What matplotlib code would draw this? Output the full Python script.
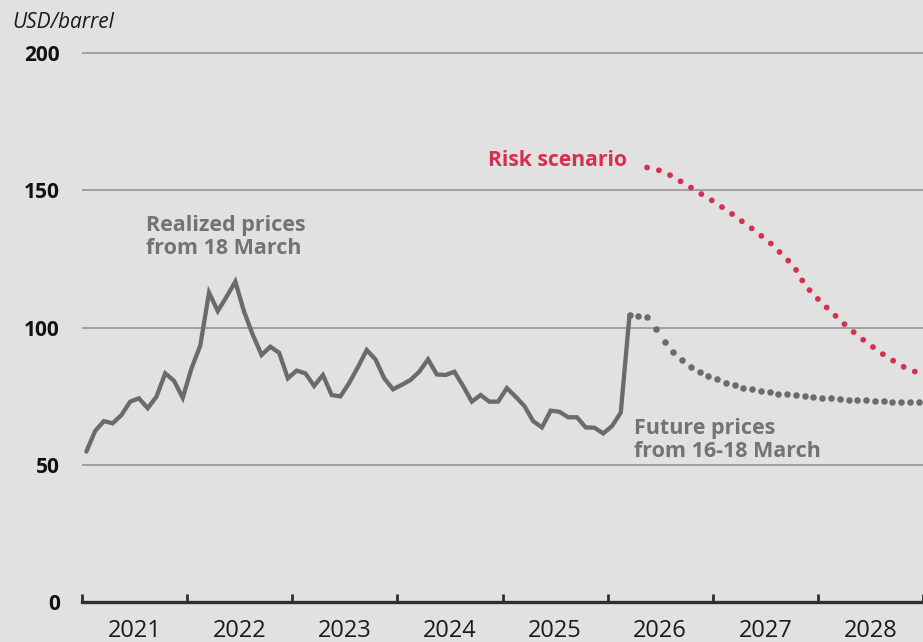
import numpy as np
import matplotlib
matplotlib.use("Agg")
import matplotlib.pyplot as plt

plt.rcParams['font.family'] = ['Open Sans', 'DejaVu Sans']

# ---- data (monthly, starting Jan 2021) ----
realized = [54.8, 62.3, 65.9, 65.1, 68.1, 73.0, 74.2, 70.6, 74.8, 83.3, 80.6, 74.4,
            85.1, 93.4, 112.7, 106.0, 111.2, 116.7, 105.8, 97.3, 90.0, 93.0, 90.8, 81.5,
            84.3, 83.3, 78.7, 82.7, 75.4, 74.9, 79.8, 85.6, 91.8, 88.4, 81.5, 77.5,
            79.1, 80.9, 83.9, 88.4, 82.9, 82.7, 83.9, 78.7, 73.0, 75.4, 73.0, 73.0,
            77.9, 74.8, 71.4, 65.9, 63.6, 69.7, 69.3, 67.3, 67.3, 63.6, 63.5, 61.4,
            64.1, 69.0, 104.6]
futures_start = 62
futures = [104.6, 104.2, 103.7, 99.3, 94.8, 91.1, 88.0, 85.6, 83.9, 82.5, 81.2, 79.9,
           79.0, 78.1, 77.5, 77.0, 76.5, 75.9, 75.7, 75.3, 75.0, 74.8, 74.4, 74.2,
           73.9, 73.7, 73.6, 73.5, 73.2, 73.1, 72.9, 72.8, 72.8, 72.8]
risk_start = 64
risk = [158.3, 157.7, 156.5, 154.9, 152.9, 151.0, 149.0, 147.1, 145.1, 142.9, 140.7,
        138.3, 136.0, 133.5, 131.0, 127.9, 124.8, 121.0, 115.6, 112.0, 108.8, 105.8,
        102.8, 99.9, 97.2, 94.7, 92.4, 90.1, 88.1, 86.2, 84.4, 83.6]
years = [2021, 2022, 2023, 2024, 2025, 2026, 2027, 2028]
yticks = [0, 50, 100, 150, 200]

def month_x(start, n):
    idx = np.arange(start, start + n)
    return years[0] + (idx + 0.5) / 12.0

BG = '#e1e1e1'
GRAY = '#6b6c6a'
TXTGRAY = '#737373'
RED = '#d7304f'

W, H = 923, 642
fig = plt.figure(figsize=(W / 100, H / 100), dpi=100, facecolor=BG)
ax = fig.add_axes([82 / W, (H - 602) / H, (W - 82) / W, (602 - 39.3) / H])
ax.set_facecolor(BG)

ax.set_xlim(years[0], years[-1] + 1)
ax.set_ylim(0, 205)

for v in yticks[1:]:
    ax.axhline(v, color='#9b9b9b', lw=1.3, zorder=1)

# realized
ax.plot(month_x(0, len(realized)), realized, color=GRAY, lw=3.1,
        solid_joinstyle='miter', solid_capstyle='round', zorder=3)
# futures dots
ax.plot(month_x(futures_start, len(futures)), futures, linestyle='none',
        marker='o', markersize=4.7, color=GRAY, markeredgewidth=0, zorder=3)
# risk scenario dotted line
ax.plot(month_x(risk_start, len(risk)), risk, color=RED, lw=4.2,
        linestyle=(0, (0.01, 2.08)), dash_capstyle='round', zorder=3)

# axes styling
for s in ['top', 'right', 'left']:
    ax.spines[s].set_visible(False)
ax.spines['bottom'].set_color('#2e2e2b')
ax.spines['bottom'].set_linewidth(2.4)

ax.set_yticks(yticks)
ax.set_yticklabels([str(v) for v in yticks], fontsize=15, fontweight='bold', color='#111111')
ax.tick_params(axis='y', length=0, pad=16)

ax.set_xticks(list(range(years[0], years[-1] + 2)))
ax.set_xticklabels([])
ax.tick_params(axis='x', which='major', direction='in', length=5.5, width=2.0, color='#2e2e2b')
ax.set_xticks([y + 0.5 for y in years], minor=True)
ax.set_xticklabels([str(y) for y in years], minor=True, fontsize=17, color='#1a1a1a')
ax.tick_params(axis='x', which='minor', length=0, pad=12.5)

# annotations
ax.text(years[0] + (146 - 82) / 105.125, 141.0, 'Realized prices\nfrom 18 March',
        fontsize=15.5, fontweight='bold', color=TXTGRAY, ha='left', va='top', linespacing=1.13)
ax.text(years[0] + (488 - 82) / 105.125, 161.0, 'Risk scenario',
        fontsize=15.2, fontweight='bold', color=RED, ha='left', va='center')
ax.text(years[0] + (634 - 82) / 105.125, 67.0, 'Future prices\nfrom 16-18 March',
        fontsize=15.5, fontweight='bold', color=TXTGRAY, ha='left', va='top', linespacing=1.15)

fig.text(12 / W, 1 - 22 / H, 'USD/barrel', fontsize=15, fontstyle='italic',
         color='#1a1a1a', ha='left', va='center')

fig.savefig('out.png', dpi=100, facecolor=BG)
